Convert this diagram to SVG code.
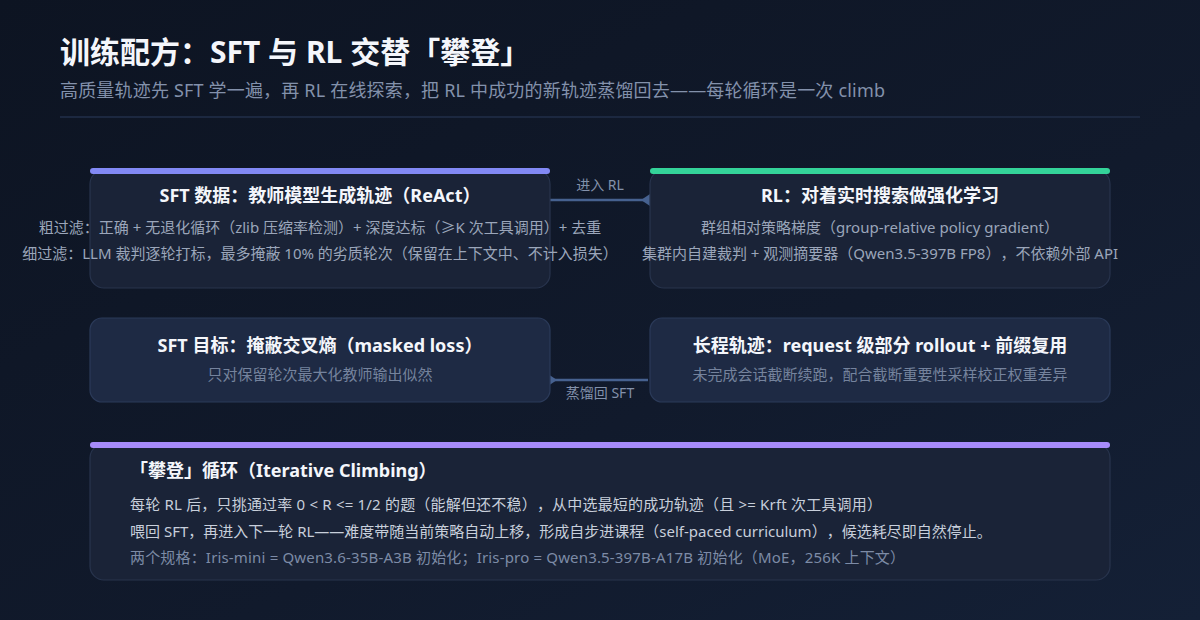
<svg xmlns="http://www.w3.org/2000/svg" width="1200" height="620" viewBox="0 0 1200 620">
<defs>
<linearGradient id="bg" x1="0" y1="0" x2="1" y2="1">
<stop offset="0" stop-color="#0d1422"/>
<stop offset="0.6" stop-color="#111a2c"/>
<stop offset="1" stop-color="#142036"/>
</linearGradient>
<marker id="tri" viewBox="0 0 9 12" refX="9" refY="6" markerWidth="9" markerHeight="12" markerUnits="userSpaceOnUse" orient="auto-start-reverse">
<path d="M9,0 L0,6 L9,12 Z" fill="#46618f"/>
</marker>
<style>
svg{text-spacing-trim:space-all}
text{font-family:"Noto Sans","Noto Sans CJK SC",sans-serif;text-spacing-trim:space-all}
.h1{font-size:30px;font-weight:700;fill:#f4f6fb}
.sub{font-size:18px;fill:#8391ab}
.card{fill:#1a2337;stroke:#28344d;stroke-width:1.2}
.card2{fill:#1e2a44;stroke:#2b3a59;stroke-width:1.2}
.t{font-size:18px;font-weight:700;fill:#f4f6fb;text-anchor:middle}
.b{font-size:15px;fill:#9ba6ba;text-anchor:middle}
.d{font-size:15px;fill:#75839d;text-anchor:middle}
.bl{font-size:15px;fill:#c8cfdb}
.dl{font-size:15px;fill:#7d8ba6}
.tl{font-size:18px;font-weight:700;fill:#f4f6fb}
.lab{font-size:14px;fill:#8391ab;text-anchor:middle}
.conn{stroke:#46618f;stroke-width:2.5;fill:none}
</style>
</defs>
<rect width="1200" height="620" fill="url(#bg)"/>
<g id="header">
<text class="h1" x="60" y="63">训练配方：SFT 与 RL 交替「攀登」</text>
<text class="sub" x="60" y="97" textLength="825" lengthAdjust="spacing">高质量轨迹先 SFT 学一遍，再 RL 在线探索，把 RL 中成功的新轨迹蒸馏回去——每轮循环是一次 climb</text>
<rect x="60" y="116" width="1080" height="2" fill="#1c2840"/>
</g>
<g id="connectors">
<line class="conn" x1="550" y1="200" x2="650" y2="200" marker-end="url(#tri)"/>
<text class="lab" x="600" y="190">进入 RL</text>
<line class="conn" x1="648" y1="380" x2="548" y2="380" marker-end="url(#tri)"/>
<text class="lab" x="600" y="398">蒸馏回 SFT</text>
</g>
<g id="sft-data">
<rect class="card" x="90" y="170" width="460" height="118" rx="14"/>
<rect x="90" y="168" width="460" height="6" rx="3" fill="#8289f5"/>
<text class="t" x="320" y="202">SFT 数据：教师模型生成轨迹（ReAct）</text>
<text class="b" x="320" y="233">粗过滤：正确 + 无退化循环（zlib 压缩率检测）+ 深度达标（≥K 次工具调用）+ 去重</text>
<text class="b" x="320" y="259">细过滤：LLM 裁判逐轮打标，最多掩蔽 10% 的劣质轮次（保留在上下文中、不计入损失）</text>
</g>
<g id="rl">
<rect class="card" x="650" y="170" width="460" height="118" rx="14"/>
<rect x="650" y="168" width="460" height="6" rx="3" fill="#34d399"/>
<text class="t" x="880" y="202">RL：对着实时搜索做强化学习</text>
<text class="b" x="880" y="233">群组相对策略梯度（group-relative policy gradient）</text>
<text class="b" x="880" y="259">集群内自建裁判 + 观测摘要器（Qwen3.5-397B FP8），不依赖外部 API</text>
</g>
<g id="sft-objective">
<rect class="card2" x="90" y="318" width="460" height="84" rx="12"/>
<text class="t" x="320" y="352">SFT 目标：掩蔽交叉熵（masked loss）</text>
<text class="d" x="320" y="380">只对保留轮次最大化教师输出似然</text>
</g>
<g id="long-horizon">
<rect class="card2" x="650" y="318" width="460" height="84" rx="12"/>
<text class="t" x="880" y="352">长程轨迹：request 级部分 rollout + 前缀复用</text>
<text class="d" x="880" y="380">未完成会话截断续跑，配合截断重要性采样校正权重差异</text>
</g>
<g id="climbing">
<rect class="card" x="90" y="444" width="1020" height="136" rx="14"/>
<rect x="90" y="442" width="1020" height="6" rx="3" fill="#a78bfa"/>
<text class="tl" x="130" y="477">「攀登」循环（Iterative Climbing）</text>
<text class="bl" x="130" y="510" textLength="752" lengthAdjust="spacing">每轮 RL 后，只挑通过率 0 &lt; R &lt;= 1/2 的题（能解但还不稳），从中选最短的成功轨迹（且 &gt;= Krft 次工具调用）</text>
<text class="bl" x="130" y="537">喂回 SFT，再进入下一轮 RL——难度带随当前策略自动上移，形成自步进课程（self-paced curriculum），候选耗尽即自然停止。</text>
<text class="dl" x="130" y="563" textLength="775" lengthAdjust="spacing">两个规格：Iris-mini = Qwen3.6-35B-A3B 初始化；Iris-pro = Qwen3.5-397B-A17B 初始化（MoE，256K 上下文）</text>
</g>
</svg>
